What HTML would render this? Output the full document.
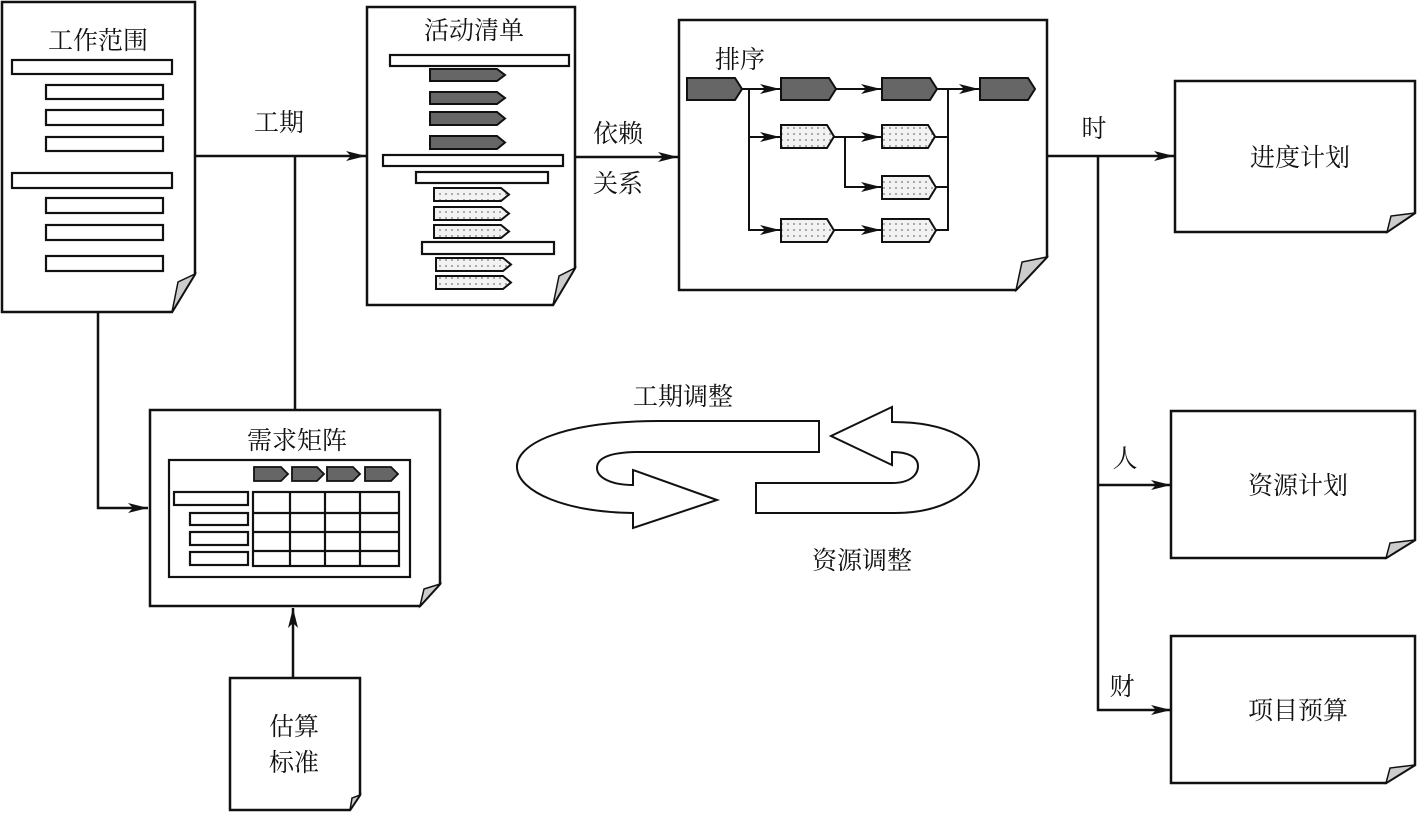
<!DOCTYPE html>
<html><head><meta charset="utf-8"><style>
html,body{margin:0;padding:0;background:#fff;}
svg{display:block;}
text{font-family:"Liberation Serif","Noto Serif CJK SC","Noto Sans CJK SC",serif;font-size:25px;fill:#111;}
</style></head><body>
<svg width="1417" height="813" viewBox="0 0 1417 813" xmlns="http://www.w3.org/2000/svg">
<defs>
<pattern id="dots" width="6" height="6" patternUnits="userSpaceOnUse">
<rect width="6" height="6" fill="#f2f2f2"/><circle cx="2" cy="2" r="0.9" fill="#777"/>
</pattern>
<marker id="ah" viewBox="0 0 20 10" refX="20" refY="5" markerWidth="20" markerHeight="10" markerUnits="userSpaceOnUse" orient="auto">
<path d="M0,0 L20,5 L0,10 L5,5 Z" fill="#111"/>
</marker>
</defs>
<g stroke="#111" stroke-width="2.5" fill="none">
<!-- connectors -->
<line x1="195" y1="156" x2="366" y2="156" marker-end="url(#ah)"/>
<line x1="295" y1="156" x2="295" y2="410"/>
<polyline points="98,312 98,508 148,508" marker-end="url(#ah)"/>
<line x1="575" y1="157" x2="678" y2="157" marker-end="url(#ah)"/>
<line x1="1047" y1="156" x2="1174" y2="156" marker-end="url(#ah)"/>
<polyline points="1098,156 1098,710 1171,710" marker-end="url(#ah)"/>
<line x1="1098" y1="485" x2="1171" y2="485" marker-end="url(#ah)"/>
<line x1="293" y1="678" x2="293" y2="608" marker-end="url(#ah)"/>
</g>
<g stroke="#111" stroke-width="2.5" fill="#fff">
<!-- doc1 -->
<polygon points="2,2 195,2 195,274 172,312 2,312"/>
<polygon points="195,274 172,312 178,282" fill="#ccc" stroke-width="1.5"/>
<!-- doc2 -->
<polygon points="367,7 575,7 575,268 553,305 367,305"/>
<polygon points="575,268 553,305 559,276" fill="#ccc" stroke-width="1.5"/>
<!-- doc3 -->
<polygon points="679,20 1047,20 1047,257 1016,290 679,290"/>
<polygon points="1047,257 1016,290 1022,262" fill="#ccc" stroke-width="1.5"/>
<!-- right docs -->
<polygon points="1175,81 1415,81 1415,213 1387,232 1175,232"/>
<polygon points="1415,213 1387,232 1391,216" fill="#ccc" stroke-width="1.5"/>
<polygon points="1171,411 1415,411 1415,540 1386,558 1171,558"/>
<polygon points="1415,540 1386,558 1390,543" fill="#ccc" stroke-width="1.5"/>
<polygon points="1171,636 1415,636 1415,765 1386,783 1171,783"/>
<polygon points="1415,765 1386,783 1390,768" fill="#ccc" stroke-width="1.5"/>
<!-- 需求矩阵 -->
<polygon points="150,410 440,410 440,584 420,606 150,606"/>
<polygon points="440,584 420,606 424,589" fill="#ccc" stroke-width="1.5"/>
<!-- 估算标准 -->
<polygon points="230,678 360,678 360,795 350,810 230,810"/>
<polygon points="360,795 350,810 352,798" fill="#ccc" stroke-width="1.5"/>
</g>
<!-- doc1 bars -->
<g stroke="#111" stroke-width="2.2" fill="#fff">
<rect x="12" y="60" width="160" height="14"/>
<rect x="46" y="85" width="117" height="14"/>
<rect x="46" y="110" width="117" height="15"/>
<rect x="46" y="137" width="117" height="14"/>
<rect x="12" y="173" width="160" height="15"/>
<rect x="46" y="198" width="117" height="15"/>
<rect x="46" y="225" width="117" height="15"/>
<rect x="46" y="256" width="117" height="15"/>
<!-- doc2 bars -->
<rect x="390" y="55" width="179" height="11"/>
<rect x="383" y="155" width="180" height="11"/>
<rect x="416" y="172" width="132" height="11"/>
<rect x="422" y="242" width="132" height="12"/>
</g>
<g stroke="#111" stroke-width="2" fill="#666">
<polygon points="430,69 497,69 505,75 497,81 430,81"/>
<polygon points="430,92 497,92 505,98 497,104 430,104"/>
<polygon points="430,112 497,112 505,118.5 497,125 430,125"/>
<polygon points="430,136 497,136 505,142.5 497,149 430,149"/>
</g>
<g stroke="#111" stroke-width="2" fill="url(#dots)">
<polygon points="434,188 501,188 509,194.5 501,201 434,201"/>
<polygon points="434,207 501,207 509,213.5 501,220 434,220"/>
<polygon points="434,225 501,225 509,231.5 501,238 434,238"/>
<polygon points="436,258 503,258 511,264.5 503,271 436,271"/>
<polygon points="436,276 503,276 511,282.5 503,289 436,289"/>
</g>
<!-- doc3 network -->
<g stroke="#111" stroke-width="2" fill="none">
<line x1="742" y1="89" x2="780" y2="89" marker-end="url(#ah)"/>
<line x1="836" y1="89" x2="881" y2="89" marker-end="url(#ah)"/>
<line x1="937" y1="89" x2="979" y2="89" marker-end="url(#ah)"/>
<polyline points="749,89 749,230 780,230" marker-end="url(#ah)"/>
<line x1="749" y1="137" x2="780" y2="137" marker-end="url(#ah)"/>
<line x1="834" y1="137" x2="881" y2="137" marker-end="url(#ah)"/>
<polyline points="845,137 845,187 881,187" marker-end="url(#ah)"/>
<line x1="834" y1="230" x2="881" y2="230" marker-end="url(#ah)"/>
<polyline points="935,137 948,137"/>
<polyline points="936,187 948,187"/>
<polyline points="936,230 948,230 948,89"/>
</g>
<g stroke="#111" stroke-width="2" fill="#666">
<polygon points="687,78 735,78 742,89 735,100 687,100"/>
<polygon points="781,78 829,78 836,89 829,100 781,100"/>
<polygon points="882,78 930,78 937,89 930,100 882,100"/>
<polygon points="980,78 1028,78 1035,89 1028,100 980,100"/>
</g>
<g stroke="#111" stroke-width="2" fill="url(#dots)">
<polygon points="781,125 827,125 834,136.5 827,148 781,148"/>
<polygon points="882,125 928,125 935,136.5 928,148 882,148"/>
<polygon points="882,176 929,176 936,187.5 929,199 882,199"/>
<polygon points="781,219 827,219 834,230.5 827,242 781,242"/>
<polygon points="882,219 929,219 936,230.5 929,242 882,242"/>
</g>
<!-- matrix -->
<g stroke="#111" stroke-width="2.2" fill="#fff">
<rect x="169" y="460" width="241" height="117"/>
<rect x="174" y="492" width="74" height="13"/>
<rect x="190" y="513" width="58" height="12"/>
<rect x="190" y="532" width="58" height="13"/>
<rect x="190" y="552" width="58" height="13"/>
<rect x="253" y="492" width="146" height="74"/>
<line x1="290" y1="492" x2="290" y2="566"/>
<line x1="325" y1="492" x2="325" y2="566"/>
<line x1="360" y1="492" x2="360" y2="566"/>
<line x1="253" y1="513" x2="399" y2="513"/>
<line x1="253" y1="532" x2="399" y2="532"/>
<line x1="253" y1="551" x2="399" y2="551"/>
</g>
<g stroke="#111" stroke-width="1.8" fill="#666">
<polygon points="254,467 281,467 288,474 281,481 254,481"/>
<polygon points="292,467 317,467 324,474 317,481 292,481"/>
<polygon points="327,467 353,467 360,474 353,481 327,481"/>
<polygon points="365,467 391,467 398,474 391,481 365,481"/>
</g>
<!-- cycle arrows -->
<g stroke="#111" stroke-width="2" fill="#fff">
<path d="M819,421 L660,421 C560,421 515,445 517,468 C519,492 565,512 633,513 L633,528 L717,500 L633,470 L633,485 C612,485 597,478 597,468 C597,458 610,452 640,452 L819,452 Z"/>
<path d="M756,483 L892,483 C910,483 918,475 918,466 C918,457 908,452 892,452 L892,465 L831,436 L892,407 L892,422 C950,422 980,442 979,465 C978,490 945,513 895,513 L756,513 Z"/>
</g>
<!-- labels -->
<text x="98" y="49" text-anchor="middle" font-size="27">工作范围</text>
<text x="474" y="39" text-anchor="middle" font-size="27">活动清单</text>
<text x="740" y="68" text-anchor="middle" font-size="27">排序</text>
<text x="297" y="449" text-anchor="middle" font-size="27">需求矩阵</text>
<text x="279" y="131" text-anchor="middle">工期</text>
<text x="618" y="142" text-anchor="middle">依赖</text>
<text x="618" y="192" text-anchor="middle">关系</text>
<text x="1094" y="137" text-anchor="middle">时</text>
<text x="1125" y="467" text-anchor="middle">人</text>
<text x="1122" y="695" text-anchor="middle">财</text>
<text x="1300" y="166" text-anchor="middle" font-size="27">进度计划</text>
<text x="1298" y="494" text-anchor="middle" font-size="27">资源计划</text>
<text x="1298" y="719" text-anchor="middle" font-size="27">项目预算</text>
<text x="683" y="405" text-anchor="middle" font-size="27">工期调整</text>
<text x="862" y="569" text-anchor="middle" font-size="27">资源调整</text>
<text x="294" y="735" text-anchor="middle" font-size="28">估算</text>
<text x="294" y="771" text-anchor="middle" font-size="28">标准</text>
</svg>
</body></html>
